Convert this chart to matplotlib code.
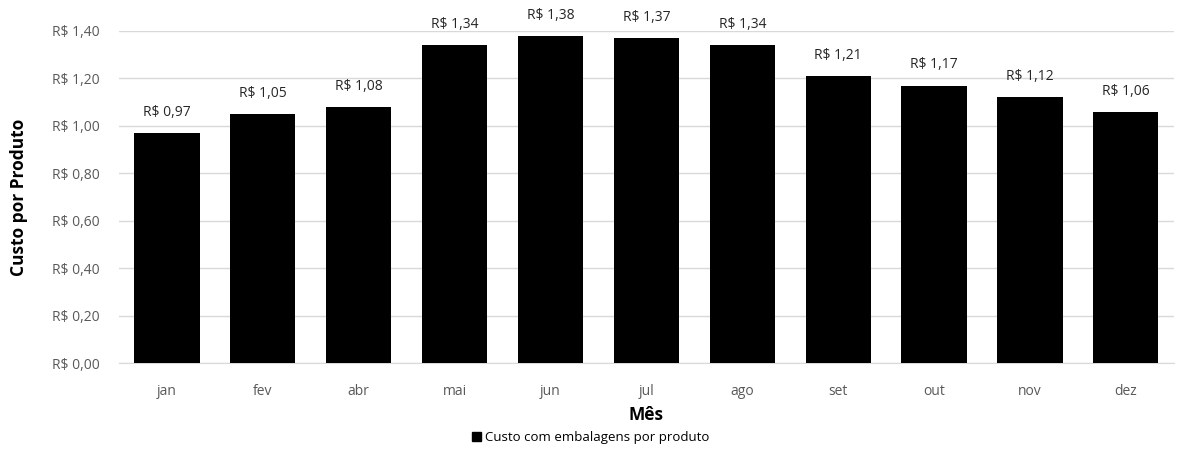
import matplotlib.pyplot as plt
from matplotlib.patches import Patch

months = ["jan", "fev", "abr", "mai", "jun", "jul", "ago", "set", "out", "nov", "dez"]
cost = [0.97, 1.05, 1.08, 1.34, 1.38, 1.37, 1.34, 1.21, 1.17, 1.12, 1.06]
yticks = [0.0, 0.2, 0.4, 0.6, 0.8, 1.0, 1.2, 1.4]

plt.rcParams['font.family'] = ['Open Sans', 'DejaVu Sans']


def brl(v):
    return "R$ " + f"{v:.2f}".replace(".", ",")


fig = plt.figure(figsize=(11.82, 4.59), dpi=100)
ax = fig.add_axes([0.1007, 0.209, 0.8923, 0.7235])

x = range(len(months))
bars = ax.bar(x, cost, width=0.68, color="black", zorder=3)
for b, v in zip(bars, cost):
    ax.text(b.get_x() + b.get_width() / 2, v + 0.055, brl(v),
            ha="center", va="bottom", fontsize=10, color="#262626")

ax.set_xlim(-0.5, len(months) - 0.5)
ax.set_ylim(0, 1.4)
ax.set_yticks(yticks)
ax.set_yticklabels([brl(v) for v in yticks])
ax.set_xticks(list(x))
ax.set_xticklabels(months)
ax.tick_params(axis="both", length=0, labelsize=10, colors="#595959")
ax.xaxis.set_tick_params(pad=15)
ax.yaxis.set_tick_params(pad=14)

ax.grid(axis="y", color="#d9d9d9", linewidth=1, zorder=0)
ax.set_axisbelow(True)
for s in ["top", "right", "left"]:
    ax.spines[s].set_visible(False)
ax.spines["bottom"].set_color("#d9d9d9")

ax.set_ylabel("Custo por Produto", fontsize=12.5, fontweight="bold")
ax.yaxis.set_label_coords(-0.086, 0.5)
ax.set_xlabel("Mês", fontsize=12.5, fontweight="bold")
ax.xaxis.set_label_coords(0.5, -0.13)

fig.legend(handles=[Patch(color="black", label="Custo com embalagens por produto")],
           loc="center", bbox_to_anchor=(0.5, 0.046), frameon=False,
           fontsize=9.5, handlelength=0.7, handleheight=0.7, handletextpad=0.3)

fig.savefig("out.png", dpi=100)
